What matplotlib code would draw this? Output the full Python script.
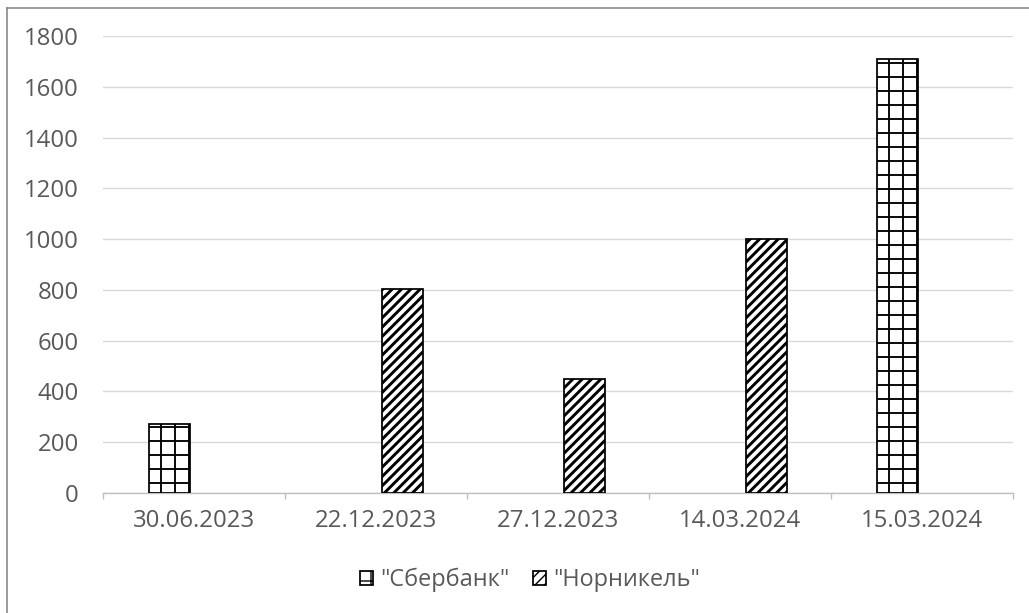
import numpy as np
import matplotlib
matplotlib.use("Agg")
import matplotlib.pyplot as plt
from matplotlib.lines import Line2D

plt.rcParams['font.family'] = ['Open Sans', 'DejaVu Sans']
plt.rcParams['hatch.linewidth'] = 1.6

# data
dates = ["30.06.2023", "22.12.2023", "27.12.2023", "14.03.2024", "15.03.2024"]
series_names = ['"Сбербанк"', '"Норникель"']
sber = [270, 0, 0, 0, 1710]
nornickel = [0, 805, 450, 1000, 0]
y_ticks = [0, 200, 400, 600, 800, 1000, 1200, 1400, 1600, 1800]

DPI = 84
def px2pt(p):
    return p * 72.0 / DPI

fig = plt.figure(figsize=(1029 / DPI, 613 / DPI), dpi=DPI)
ax = fig.add_axes([103 / 1029, 1 - 493 / 613, 910 / 1029, 457 / 613])

x = np.arange(len(dates))
w = 0.225
sb_vals = np.array(sber, dtype=float)
nn_vals = np.array(nornickel, dtype=float)

b1 = ax.bar(x - 0.135, np.where(sb_vals > 0, sb_vals, np.nan), width=w,
            color="white", edgecolor="black", linewidth=1.5, hatch="+",
            label=series_names[0], zorder=3)
b2 = ax.bar(x + 0.148, np.where(nn_vals > 0, nn_vals, np.nan), width=w,
            color="white", edgecolor="black", linewidth=1.5, hatch="///",
            label=series_names[1], zorder=3)
for b in b2:
    if hasattr(b, "set_hatch_linewidth"):
        b.set_hatch_linewidth(2.5)

ax.set_xlim(-0.5, len(dates) - 0.5)
ax.set_ylim(0, 1800)
ax.set_yticks(y_ticks)
ax.yaxis.grid(True, color="#d9d9d9", linewidth=1.2, zorder=0)
ax.set_axisbelow(True)

for s in ["top", "right", "left"]:
    ax.spines[s].set_visible(False)
ax.spines["bottom"].set_color("#bfbfbf")
ax.spines["bottom"].set_linewidth(1.2)

fs = px2pt(24)
ax.set_xticks(x)
ax.set_xticklabels(dates)
ax.set_xticks(np.arange(-0.5, len(dates)), minor=True)
ax.tick_params(axis="x", which="major", length=0, pad=px2pt(16),
               labelsize=fs, labelcolor="#595959")
ax.tick_params(axis="x", which="minor", length=px2pt(6), width=1.2,
               color="#bfbfbf")
ax.tick_params(axis="y", length=0, pad=px2pt(24), labelsize=fs,
               labelcolor="#595959")

leg = fig.legend(loc="center", bbox_to_anchor=(530 / 1029, 1 - 580 / 613),
                 ncol=2, frameon=False, fontsize=px2pt(23.5),
                 handlelength=0.55, handleheight=0.55, handletextpad=0.3,
                 columnspacing=1.0)
for t in leg.get_texts():
    t.set_color("#595959")
for h in leg.legend_handles:
    if hasattr(h, "set_hatch_linewidth"):
        h.set_hatch_linewidth(1.2)

# outer frame (left and top only visible)
fig.add_artist(Line2D([7 / 1029, 7 / 1029], [0, 1 - 8 / 613],
                      transform=fig.transFigure, color="#7f7f7f", linewidth=1.3))
fig.add_artist(Line2D([7 / 1029, 1], [1 - 8 / 613, 1 - 8 / 613],
                      transform=fig.transFigure, color="#7f7f7f", linewidth=1.3))

fig.savefig("out.png", dpi=DPI)
